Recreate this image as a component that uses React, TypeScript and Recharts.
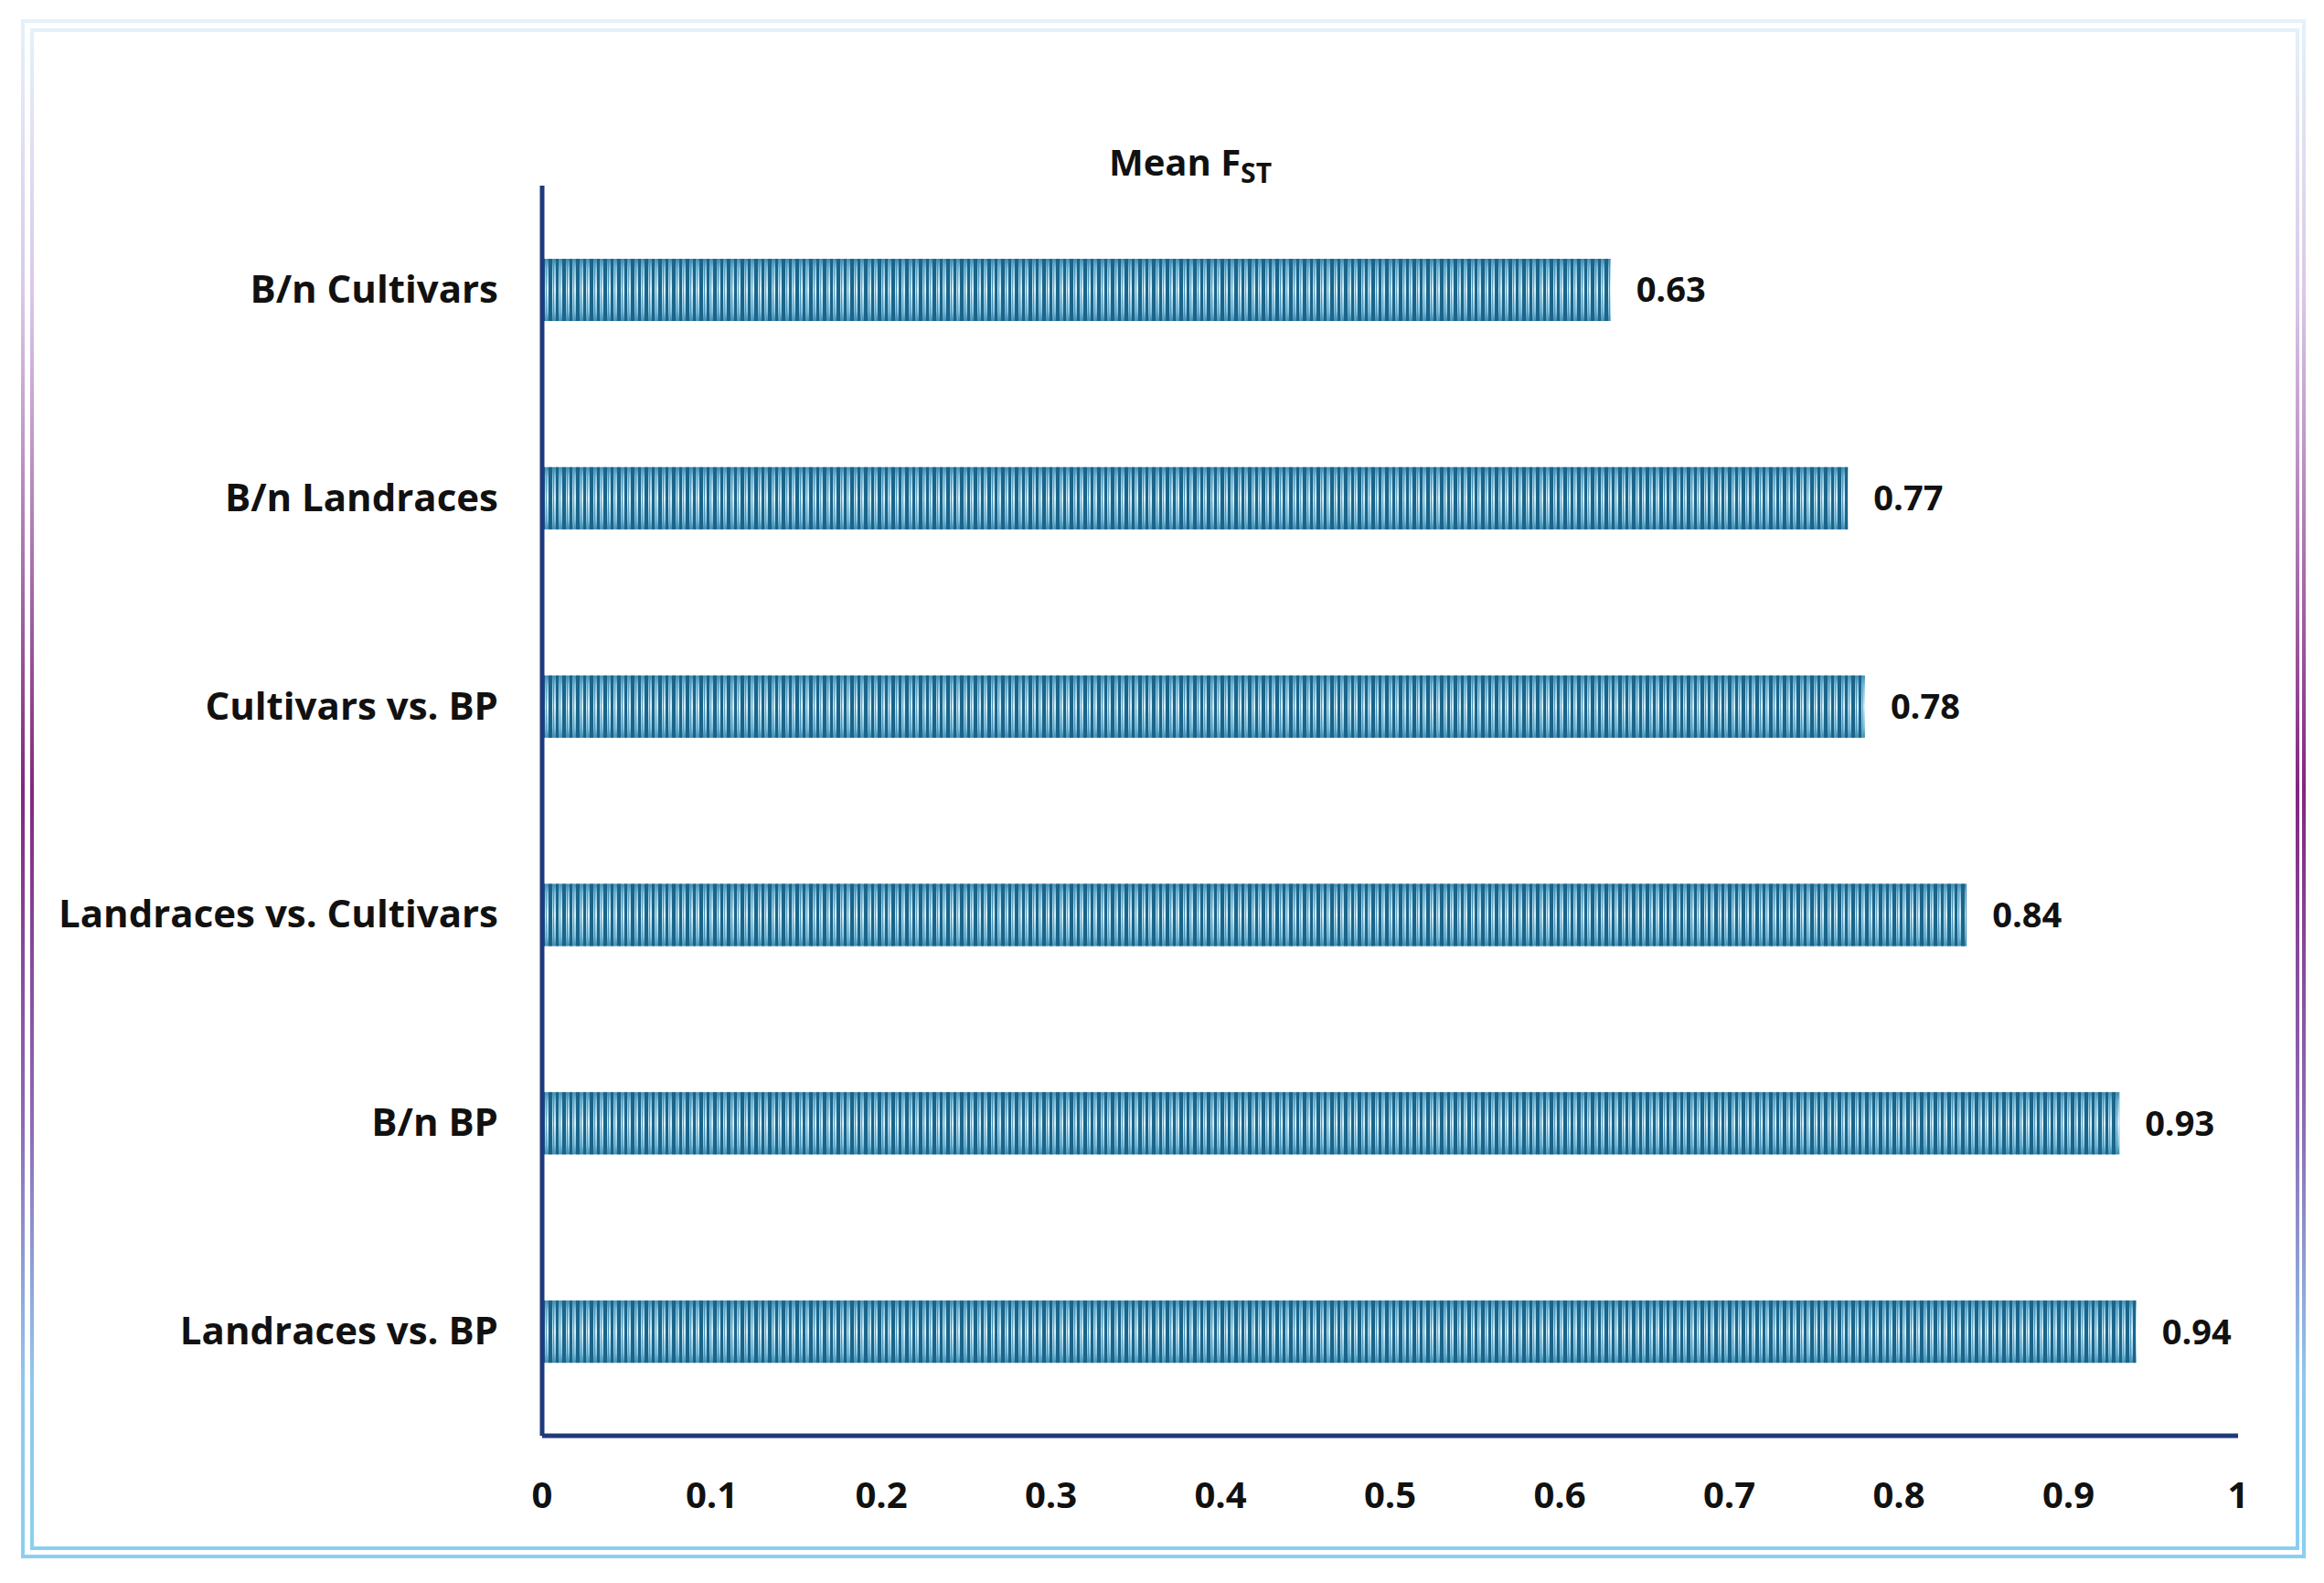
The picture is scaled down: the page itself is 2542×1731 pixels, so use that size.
import React from "react";
import { BarChart, Bar, XAxis, YAxis, LabelList } from "recharts";

const categories = [
  "B/n Cultivars",
  "B/n Landraces",
  "Cultivars vs. BP",
  "Landraces vs. Cultivars",
  "B/n BP",
  "Landraces vs. BP",
];
const meanFst = [0.63, 0.77, 0.78, 0.84, 0.93, 0.94];
const xTicks = [0, 0.1, 0.2, 0.3, 0.4, 0.5, 0.6, 0.7, 0.8, 0.9, 1];

const data = categories.map((name, i) => ({ name, value: meanFst[i] }));

const W = 2542;
const H = 1731;
const FONT = "'Open Sans', 'Noto Sans', sans-serif";
const AXIS_COLOR = "#1f3a7c";

// gradient body + vertical stripe overlay, like the excel "pattern" fill
const StripedBar = (props: any) => {
  const { x, y, width, height } = props;
  if (!width || width <= 0) return null;
  return (
    <g>
      <rect x={x} y={y} width={width} height={height} fill="url(#barShade)" />
      <rect x={x} y={y} width={width} height={height} fill="url(#barStripes)" />
    </g>
  );
};

const CategoryTick = (props: any) => {
  const { x, y, payload } = props;
  return (
    <text
      x={x}
      y={y}
      dy={14}
      textAnchor="end"
      fontFamily={FONT}
      fontWeight={700}
      fontSize={42}
      fill="#111"
    >
      {payload.value}
    </text>
  );
};

export default function App() {
  return (
    <div
      style={{
        position: "absolute",
        left: 0,
        top: 0,
        width: W,
        height: H,
        background: "#fff",
      }}
    >
      <svg
        width={W}
        height={H}
        style={{ position: "absolute", left: 0, top: 0 }}
      >
        <defs>
          <linearGradient
            id="frameGrad"
            gradientUnits="userSpaceOnUse"
            x1={0}
            y1={20}
            x2={0}
            y2={1705}
          >
            <stop offset="0" stopColor="#e4f2fb" />
            <stop offset="0.18" stopColor="#d9c8e6" />
            <stop offset="0.5" stopColor="#80287f" />
            <stop offset="0.72" stopColor="#8d6cb4" />
            <stop offset="0.88" stopColor="#90c6ec" />
            <stop offset="1" stopColor="#8ad0f0" />
          </linearGradient>
        </defs>
        <rect
          x={25}
          y={23}
          width={2495}
          height={1679}
          fill="none"
          stroke="url(#frameGrad)"
          strokeWidth={4}
        />
        <rect
          x={35}
          y={33}
          width={2478}
          height={1660}
          fill="none"
          stroke="url(#frameGrad)"
          strokeWidth={4}
        />
        <text
          x={1302}
          y={192}
          textAnchor="middle"
          fontFamily={FONT}
          fontWeight={700}
          fontSize={40}
          fill="#111"
        >
          Mean F
          <tspan fontSize={30} dy={8}>
            ST
          </tspan>
        </text>
      </svg>
      <div style={{ position: "absolute", left: 0, top: 0 }}>
        <BarChart
          width={W}
          height={H}
          data={data}
          layout="vertical"
          margin={{ top: 203, right: 94, bottom: 61, left: 0 }}
          barCategoryGap={0}
        >
          <defs>
            <linearGradient id="barShade" x1="0" y1="0" x2="0" y2="1">
              <stop offset="0" stopColor="#3a86ad" />
              <stop offset="0.15" stopColor="#80c0dd" />
              <stop offset="0.5" stopColor="#d6f1fc" />
              <stop offset="0.85" stopColor="#80c0dd" />
              <stop offset="1" stopColor="#3a86ad" />
            </linearGradient>
            <pattern
              id="barStripes"
              patternUnits="userSpaceOnUse"
              x={0}
              y={0}
              width={15}
              height={10}
            >
              <rect x={0} y={0} width={4} height={10} fill="#1b6489" />
              <rect x={5} y={0} width={1} height={10} fill="#4a93b8" />
              <rect x={8} y={0} width={3} height={10} fill="#1b6489" />
              <rect x={12} y={0} width={1} height={10} fill="#5fa3c4" />
            </pattern>
          </defs>
          <XAxis
            type="number"
            domain={[0, 1]}
            ticks={xTicks}
            height={100}
            axisLine={{ stroke: AXIS_COLOR, strokeWidth: 5 }}
            tickLine={false}
            tickSize={0}
            tickMargin={51}
            tick={{
              fontFamily: FONT,
              fontWeight: 700,
              fontSize: 40,
              fill: "#111",
            }}
          />
          <YAxis
            type="category"
            dataKey="name"
            width={593}
            axisLine={{ stroke: AXIS_COLOR, strokeWidth: 5 }}
            tickLine={false}
            tickSize={0}
            tickMargin={48}
            tick={<CategoryTick />}
          />
          <Bar
            dataKey="value"
            barSize={68}
            shape={<StripedBar />}
            isAnimationActive={false}
          >
            <LabelList
              dataKey="value"
              position="right"
              offset={28}
              fill="#111"
              fontFamily={FONT}
              fontWeight={700}
              fontSize={38}
            />
          </Bar>
        </BarChart>
      </div>
    </div>
  );
}
